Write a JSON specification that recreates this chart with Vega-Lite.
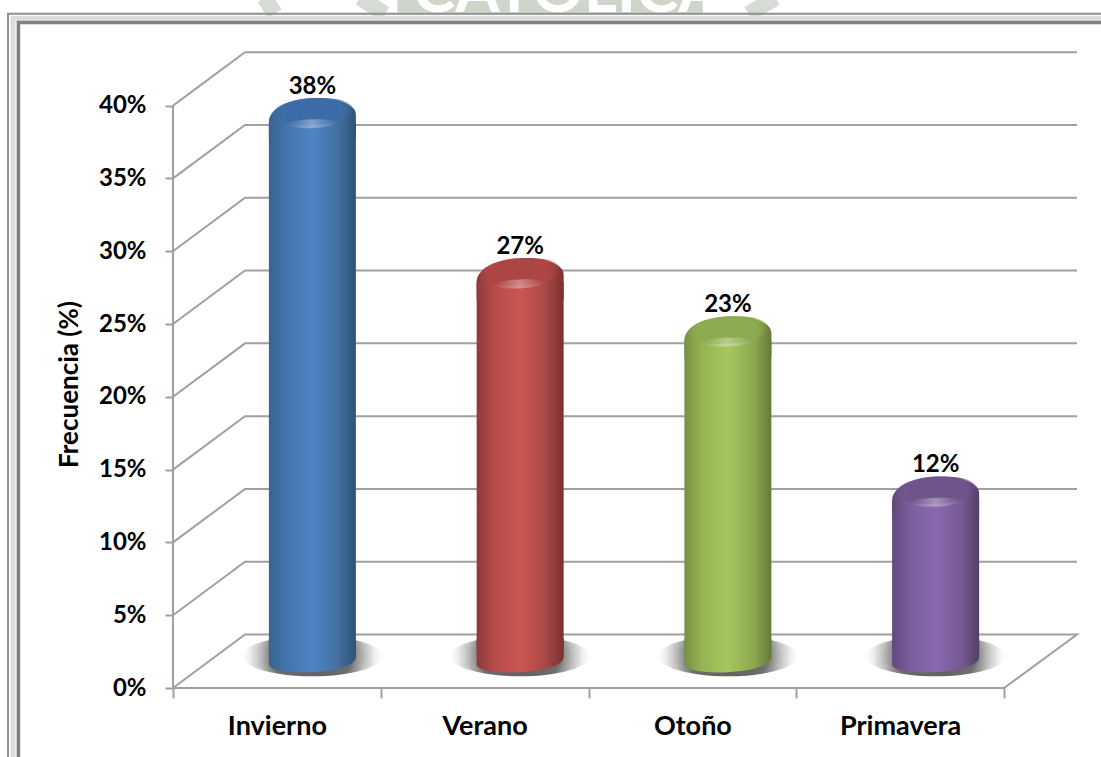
{
  "$schema": "https://vega.github.io/schema/vega-lite/v6.json",
  "width": 904,
  "height": 637,
  "autosize": {"type": "none"},
  "padding": {"left": 173, "top": 51, "right": 24, "bottom": 69},
  "background": "white",
  "view": {"stroke": null},
  "config": {"font": "Lato"},
  "datasets": {
    "estaciones": [
      {"estacion": "Invierno", "valor": 38, "etiqueta": "38%"},
      {"estacion": "Verano", "valor": 27, "etiqueta": "27%"},
      {"estacion": "Otoño", "valor": 23, "etiqueta": "23%"},
      {"estacion": "Primavera", "valor": 12, "etiqueta": "12%"}
    ],
    "cuadricula": [
      {"linea": "0", "orden": 1, "u": 0, "pct": 0}, {"linea": "0", "orden": 2, "u": 0.3466, "pct": 3.67}, {"linea": "0", "orden": 3, "u": 4.351, "pct": 3.67}, {"linea": "0", "orden": 4, "u": 4, "pct": 0}, {"linea": "0", "orden": 5, "u": 0, "pct": 0},
      {"linea": "5", "orden": 1, "u": 0, "pct": 5}, {"linea": "5", "orden": 2, "u": 0.3466, "pct": 8.67}, {"linea": "5", "orden": 3, "u": 4.351, "pct": 8.67},
      {"linea": "10", "orden": 1, "u": 0, "pct": 10}, {"linea": "10", "orden": 2, "u": 0.3466, "pct": 13.67}, {"linea": "10", "orden": 3, "u": 4.351, "pct": 13.67},
      {"linea": "15", "orden": 1, "u": 0, "pct": 15}, {"linea": "15", "orden": 2, "u": 0.3466, "pct": 18.67}, {"linea": "15", "orden": 3, "u": 4.351, "pct": 18.67},
      {"linea": "20", "orden": 1, "u": 0, "pct": 20}, {"linea": "20", "orden": 2, "u": 0.3466, "pct": 23.67}, {"linea": "20", "orden": 3, "u": 4.351, "pct": 23.67},
      {"linea": "25", "orden": 1, "u": 0, "pct": 25}, {"linea": "25", "orden": 2, "u": 0.3466, "pct": 28.67}, {"linea": "25", "orden": 3, "u": 4.351, "pct": 28.67},
      {"linea": "30", "orden": 1, "u": 0, "pct": 30}, {"linea": "30", "orden": 2, "u": 0.3466, "pct": 33.67}, {"linea": "30", "orden": 3, "u": 4.351, "pct": 33.67},
      {"linea": "35", "orden": 1, "u": 0, "pct": 35}, {"linea": "35", "orden": 2, "u": 0.3466, "pct": 38.67}, {"linea": "35", "orden": 3, "u": 4.351, "pct": 38.67},
      {"linea": "40", "orden": 1, "u": 0, "pct": 40}, {"linea": "40", "orden": 2, "u": 0.3466, "pct": 43.67}, {"linea": "40", "orden": 3, "u": 4.351, "pct": 43.67},
      {"linea": "eje", "orden": 1, "u": 0, "pct": 0}, {"linea": "eje", "orden": 2, "u": 0, "pct": 40}
    ],
    "marco": [
      {"borde": "exterior", "orden": 1, "u": -0.794, "pct": -4.8}, {"borde": "exterior", "orden": 2, "u": -0.794, "pct": 46.3}, {"borde": "exterior", "orden": 3, "u": 4.47, "pct": 46.3},
      {"borde": "bisel", "orden": 1, "u": -0.77, "pct": -4.8}, {"borde": "bisel", "orden": 2, "u": -0.77, "pct": 46.0}, {"borde": "bisel", "orden": 3, "u": 4.47, "pct": 46.0},
      {"borde": "interior", "orden": 1, "u": -0.744, "pct": -4.8}, {"borde": "interior", "orden": 2, "u": -0.744, "pct": 45.7}, {"borde": "interior", "orden": 3, "u": 4.47, "pct": 45.7}
    ],
    "sello": [
      {"franja": "a", "orden": 1, "u": 0.44, "pct": 47.4}, {"franja": "a", "orden": 2, "u": 0.49, "pct": 46.3},
      {"franja": "b", "orden": 1, "u": 0.9, "pct": 47.4}, {"franja": "b", "orden": 2, "u": 1.02, "pct": 46.3},
      {"franja": "c", "orden": 1, "u": 1.08, "pct": 46.85}, {"franja": "c", "orden": 2, "u": 2.55, "pct": 46.85},
      {"franja": "d", "orden": 1, "u": 2.77, "pct": 46.3}, {"franja": "d", "orden": 2, "u": 2.9, "pct": 47.4}
    ]
  },
  "resolve": {"scale": {"x": "independent"}},
  "layer": [
    {
      "data": {"name": "sello"},
      "transform": [{"filter": "datum.franja !== 'c'"}],
      "mark": {"type": "line", "stroke": "#d6dbd3", "strokeWidth": 16, "strokeCap": "butt", "clip": false},
      "encoding": {
        "x": {"field": "u", "type": "quantitative", "axis": null, "scale": {"domain": [0, 4.351], "nice": false, "zero": false}},
        "y": {
          "field": "pct",
          "type": "quantitative",
          "title": "Frecuencia (%)",
          "scale": {"domain": [0, 43.75], "nice": false},
          "axis": {
            "values": [0, 5, 10, 15, 20, 25, 30, 35, 40],
            "labelExpr": "datum.value + '%'",
            "domain": false,
            "grid": false,
            "tickSize": 8,
            "tickWidth": 2,
            "tickColor": "#a0a0a0",
            "labelPadding": 19,
            "labelFont": "Lato",
            "labelFontWeight": "bold",
            "labelFontSize": 24,
            "labelColor": "black",
            "titleFont": "Lato",
            "titleFontWeight": "bold",
            "titleFontSize": 26,
            "titleColor": "black",
            "titleX": -91,
            "titleY": 333
          }
        },
        "detail": {"field": "franja"},
        "order": {"field": "orden"}
      }
    },
    {
      "data": {"name": "sello"},
      "transform": [{"filter": "datum.franja === 'c'"}],
      "mark": {"type": "line", "stroke": "#ced5ca", "strokeWidth": 14, "clip": false},
      "encoding": {
        "x": {"field": "u", "type": "quantitative", "axis": null, "scale": {"domain": [0, 4.351], "nice": false, "zero": false}},
        "y": {"field": "pct", "type": "quantitative"},
        "order": {"field": "orden"}
      }
    },
    {
      "data": {"values": [{"u": 1.9, "pct": 46.45, "rotulo": "CATOLICA"}]},
      "mark": {"type": "text", "font": "Lato", "fontWeight": "bold", "fontSize": 64, "color": "white", "baseline": "alphabetic", "clip": false},
      "encoding": {
        "x": {"field": "u", "type": "quantitative", "axis": null, "scale": {"domain": [0, 4.351], "nice": false, "zero": false}},
        "y": {"field": "pct", "type": "quantitative"},
        "text": {"field": "rotulo"}
      }
    },
    {
      "data": {"name": "marco"},
      "transform": [{"filter": "datum.borde === 'bisel'"}],
      "mark": {"type": "line", "stroke": "#dcdcdc", "strokeWidth": 5, "clip": false},
      "encoding": {
        "x": {"field": "u", "type": "quantitative", "axis": null, "scale": {"domain": [0, 4.351], "nice": false, "zero": false}},
        "y": {"field": "pct", "type": "quantitative"},
        "order": {"field": "orden"}
      }
    },
    {
      "data": {"name": "marco"},
      "transform": [{"filter": "datum.borde === 'exterior'"}],
      "mark": {"type": "line", "stroke": "#8f8f8f", "strokeWidth": 2, "clip": false},
      "encoding": {
        "x": {"field": "u", "type": "quantitative", "axis": null, "scale": {"domain": [0, 4.351], "nice": false, "zero": false}},
        "y": {"field": "pct", "type": "quantitative"},
        "order": {"field": "orden"}
      }
    },
    {
      "data": {"name": "marco"},
      "transform": [{"filter": "datum.borde === 'interior'"}],
      "mark": {"type": "line", "stroke": "#7f7f7f", "strokeWidth": 3.5, "clip": false},
      "encoding": {
        "x": {"field": "u", "type": "quantitative", "axis": null, "scale": {"domain": [0, 4.351], "nice": false, "zero": false}},
        "y": {"field": "pct", "type": "quantitative"},
        "order": {"field": "orden"}
      }
    },
    {
      "data": {"name": "cuadricula"},
      "mark": {"type": "line", "stroke": "#a0a0a0", "strokeWidth": 2, "clip": false},
      "encoding": {
        "x": {"field": "u", "type": "quantitative", "axis": null, "scale": {"domain": [0, 4.351], "nice": false, "zero": false}},
        "y": {"field": "pct", "type": "quantitative"},
        "detail": {"field": "linea"},
        "order": {"field": "orden"}
      }
    },
    {
      "data": {"name": "estaciones"},
      "encoding": {
        "x": {
          "field": "estacion",
          "type": "nominal",
          "sort": null,
          "title": null,
          "scale": {"type": "band", "domain": ["Invierno", "Verano", "Otoño", "Primavera"], "range": [0, 831], "paddingInner": 0, "paddingOuter": 0},
          "axis": {
            "orient": "bottom",
            "domain": false,
            "grid": false,
            "labelAngle": 0,
            "tickBand": "extent",
            "tickSize": 10,
            "tickWidth": 2,
            "tickColor": "#a0a0a0",
            "labelPadding": 15,
            "labelFont": "Lato",
            "labelFontWeight": "bold",
            "labelFontSize": 27,
            "labelColor": "black"
          }
        },
        "y": {"field": "valor", "type": "quantitative"}
      },
      "layer": [
        {
          "mark": {
            "type": "point", "filled": true, "opacity": 1, "size": 19600, "xOffset": 35.5, "yOffset": -32, "clip": false,
            "shape": "M-1,0 C-1,-0.16 -0.55,-0.29 0,-0.29 C0.55,-0.29 1,-0.16 1,0 C1,0.16 0.55,0.29 0,0.29 C-0.55,0.29 -1,0.16 -1,0 Z",
            "fill": {"gradient": "radial", "x1": 0.5, "y1": 0.5, "r1": 0, "x2": 0.5, "y2": 0.5, "r2": 0.5,
              "stops": [{"offset": 0, "color": "#5a5a5a"}, {"offset": 0.55, "color": "#6e6e6e"}, {"offset": 0.74, "color": "#bcbcbc"}, {"offset": 0.9, "color": "#f0f0f0"}, {"offset": 1, "color": "#ffffff"}]}
          },
          "encoding": {"y": {"datum": 0}}
        },
        {
          "mark": {"type": "bar", "width": 87, "xOffset": 35.5, "yOffset": -13, "y2Offset": -37, "clip": false},
          "encoding": {
            "y2": {"datum": 0},
            "fill": {"condition": [
              {"test": "datum.estacion === 'Invierno'", "value": {"gradient": "linear", "x1": 0, "x2": 1, "y1": 0, "y2": 0, "stops": [{"offset": 0, "color": "#38648f"}, {"offset": 0.2, "color": "#4573ab"}, {"offset": 0.5, "color": "#4f84c4"}, {"offset": 0.8, "color": "#43709f"}, {"offset": 1, "color": "#2e5277"}]}},
              {"test": "datum.estacion === 'Verano'", "value": {"gradient": "linear", "x1": 0, "x2": 1, "y1": 0, "y2": 0, "stops": [{"offset": 0, "color": "#8e3b39"}, {"offset": 0.2, "color": "#b44c49"}, {"offset": 0.5, "color": "#cc5654"}, {"offset": 0.8, "color": "#a84745"}, {"offset": 1, "color": "#783130"}]}},
              {"test": "datum.estacion === 'Otoño'", "value": {"gradient": "linear", "x1": 0, "x2": 1, "y1": 0, "y2": 0, "stops": [{"offset": 0, "color": "#789043"}, {"offset": 0.2, "color": "#94b354"}, {"offset": 0.5, "color": "#a5c75e"}, {"offset": 0.8, "color": "#8ca94e"}, {"offset": 1, "color": "#647a39"}]}}
            ], "value": {"gradient": "linear", "x1": 0, "x2": 1, "y1": 0, "y2": 0, "stops": [{"offset": 0, "color": "#5f4a7a"}, {"offset": 0.2, "color": "#7a5e9c"}, {"offset": 0.5, "color": "#8a68ae"}, {"offset": 0.8, "color": "#745a93"}, {"offset": 1, "color": "#523f6a"}]}}
          }
        },
        {
          "mark": {
            "type": "point", "filled": true, "opacity": 1, "size": 7569, "xOffset": 35.5, "yOffset": -27.5, "clip": false,
            "shape": "M-1,-0.5 L-1,0.1 C-1,0.22 -0.55,0.3 0,0.27 C0.55,0.24 1,0.12 1,-0.08 L1,-0.5 Z"
          },
          "encoding": {
            "y": {"datum": 0},
            "fill": {"condition": [
              {"test": "datum.estacion === 'Invierno'", "value": {"gradient": "linear", "x1": 0, "x2": 1, "y1": 0, "y2": 0, "stops": [{"offset": 0, "color": "#38648f"}, {"offset": 0.2, "color": "#4573ab"}, {"offset": 0.5, "color": "#4f84c4"}, {"offset": 0.8, "color": "#43709f"}, {"offset": 1, "color": "#2e5277"}]}},
              {"test": "datum.estacion === 'Verano'", "value": {"gradient": "linear", "x1": 0, "x2": 1, "y1": 0, "y2": 0, "stops": [{"offset": 0, "color": "#8e3b39"}, {"offset": 0.2, "color": "#b44c49"}, {"offset": 0.5, "color": "#cc5654"}, {"offset": 0.8, "color": "#a84745"}, {"offset": 1, "color": "#783130"}]}},
              {"test": "datum.estacion === 'Otoño'", "value": {"gradient": "linear", "x1": 0, "x2": 1, "y1": 0, "y2": 0, "stops": [{"offset": 0, "color": "#789043"}, {"offset": 0.2, "color": "#94b354"}, {"offset": 0.5, "color": "#a5c75e"}, {"offset": 0.8, "color": "#8ca94e"}, {"offset": 1, "color": "#647a39"}]}}
            ], "value": {"gradient": "linear", "x1": 0, "x2": 1, "y1": 0, "y2": 0, "stops": [{"offset": 0, "color": "#5f4a7a"}, {"offset": 0.2, "color": "#7a5e9c"}, {"offset": 0.5, "color": "#8a68ae"}, {"offset": 0.8, "color": "#745a93"}, {"offset": 1, "color": "#523f6a"}]}}
          }
        },
        {
          "mark": {
            "type": "point", "filled": true, "opacity": 1, "size": 7569, "xOffset": 35.5, "yOffset": -22, "clip": false,
            "shape": "M-1,0.6 L-1,0.2 C-1,-0.1 -0.5,-0.34 0.05,-0.34 C0.6,-0.34 1,-0.2 1,0.05 L1,0.6 Z"
          },
          "encoding": {
            "fill": {"condition": [
              {"test": "datum.estacion === 'Invierno'", "value": {"gradient": "linear", "x1": 0, "x2": 1, "y1": 0, "y2": 0, "stops": [{"offset": 0, "color": "#38648f"}, {"offset": 0.2, "color": "#4573ab"}, {"offset": 0.5, "color": "#4f84c4"}, {"offset": 0.8, "color": "#43709f"}, {"offset": 1, "color": "#2e5277"}]}},
              {"test": "datum.estacion === 'Verano'", "value": {"gradient": "linear", "x1": 0, "x2": 1, "y1": 0, "y2": 0, "stops": [{"offset": 0, "color": "#8e3b39"}, {"offset": 0.2, "color": "#b44c49"}, {"offset": 0.5, "color": "#cc5654"}, {"offset": 0.8, "color": "#a84745"}, {"offset": 1, "color": "#783130"}]}},
              {"test": "datum.estacion === 'Otoño'", "value": {"gradient": "linear", "x1": 0, "x2": 1, "y1": 0, "y2": 0, "stops": [{"offset": 0, "color": "#789043"}, {"offset": 0.2, "color": "#94b354"}, {"offset": 0.5, "color": "#a5c75e"}, {"offset": 0.8, "color": "#8ca94e"}, {"offset": 1, "color": "#647a39"}]}}
            ], "value": {"gradient": "linear", "x1": 0, "x2": 1, "y1": 0, "y2": 0, "stops": [{"offset": 0, "color": "#5f4a7a"}, {"offset": 0.2, "color": "#7a5e9c"}, {"offset": 0.5, "color": "#8a68ae"}, {"offset": 0.8, "color": "#745a93"}, {"offset": 1, "color": "#523f6a"}]}}
          }
        },
        {
          "mark": {
            "type": "point", "filled": true, "opacity": 1, "size": 6724, "xOffset": 36, "yOffset": -23, "clip": false, "angle": -4,
            "shape": "M-1,0 C-1,-0.18 -0.55,-0.33 0,-0.33 C0.55,-0.33 1,-0.18 1,0 C1,0.18 0.55,0.33 0,0.33 C-0.55,0.33 -1,0.18 -1,0 Z"
          },
          "encoding": {
            "fill": {"condition": [
              {"test": "datum.estacion === 'Invierno'", "value": {"gradient": "radial", "x1": 0.5, "y1": 0.5, "r1": 0, "x2": 0.5, "y2": 0.5, "r2": 0.5, "stops": [{"offset": 0, "color": "rgba(60,108,168,1)"}, {"offset": 0.65, "color": "rgba(60,108,168,0.95)"}, {"offset": 1, "color": "rgba(60,108,168,0)"}]}},
              {"test": "datum.estacion === 'Verano'", "value": {"gradient": "radial", "x1": 0.5, "y1": 0.5, "r1": 0, "x2": 0.5, "y2": 0.5, "r2": 0.5, "stops": [{"offset": 0, "color": "rgba(172,70,68,1)"}, {"offset": 0.65, "color": "rgba(172,70,68,0.95)"}, {"offset": 1, "color": "rgba(172,70,68,0)"}]}},
              {"test": "datum.estacion === 'Otoño'", "value": {"gradient": "radial", "x1": 0.5, "y1": 0.5, "r1": 0, "x2": 0.5, "y2": 0.5, "r2": 0.5, "stops": [{"offset": 0, "color": "rgba(140,170,80,1)"}, {"offset": 0.65, "color": "rgba(140,170,80,0.95)"}, {"offset": 1, "color": "rgba(140,170,80,0)"}]}}
            ], "value": {"gradient": "radial", "x1": 0.5, "y1": 0.5, "r1": 0, "x2": 0.5, "y2": 0.5, "r2": 0.5, "stops": [{"offset": 0, "color": "rgba(110,84,140,1)"}, {"offset": 0.65, "color": "rgba(110,84,140,0.95)"}, {"offset": 1, "color": "rgba(110,84,140,0)"}]}}
          }
        },
        {
          "mark": {
            "type": "point", "filled": true, "opacity": 1, "size": 2500, "xOffset": 35, "yOffset": -11, "clip": false, "angle": -2,
            "shape": "M-1,0 C-1,-0.1 -0.55,-0.18 0,-0.18 C0.55,-0.18 1,-0.1 1,0 C1,0.1 0.55,0.18 0,0.18 C-0.55,0.18 -1,0.1 -1,0 Z",
            "fill": {"gradient": "radial", "x1": 0.5, "y1": 0.5, "r1": 0, "x2": 0.5, "y2": 0.5, "r2": 0.5,
              "stops": [{"offset": 0, "color": "rgba(255,255,255,0.38)"}, {"offset": 0.5, "color": "rgba(255,255,255,0.18)"}, {"offset": 1, "color": "rgba(255,255,255,0)"}]}
          }
        },
        {
          "mark": {"type": "text", "xOffset": 35.5, "yOffset": -48, "font": "Lato", "fontWeight": "bold", "fontSize": 24, "color": "black", "clip": false},
          "encoding": {"text": {"field": "etiqueta"}}
        }
      ]
    }
  ]
}
